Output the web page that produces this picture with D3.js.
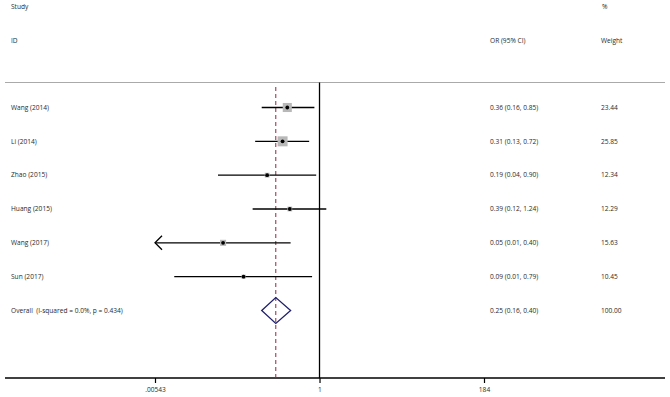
<!DOCTYPE html>
<html>
<head>
<meta charset="utf-8">
<script src="https://cdn.jsdelivr.net/npm/d3@7"></script>
<style>
  body { margin: 0; background: #fff; }
  text { font-family: "Open Sans", sans-serif; fill: #2a2a2a; }
</style>
</head>
<body>
<div id="chart"></div>
<script>
// study data
const studies = ["Wang (2014)", "Li (2014)", "Zhao (2015)", "Huang (2015)", "Wang (2017)", "Sun (2017)"];
const orValues = [0.36, 0.31, 0.19, 0.39, 0.047, 0.09];
const ciLower = [0.16, 0.13, 0.04, 0.12, 0.0054, 0.01];
const ciUpper = [0.85, 0.72, 0.90, 1.24, 0.40, 0.79];
const weights = [23.44, 25.85, 12.34, 12.29, 15.63, 10.45];

const overallLabel = "Overall  (I-squared = 0.0%, p = 0.434)";
const overall = { or: 0.25, lo: 0.16, hi: 0.40, weight: 100.00 };

const tickValues = [0.00543, 1, 184];
const tickLabels = [".00543", "1", "184"];

const width = 670, height = 397;
const fmt = d3.format(".2f");

const svg = d3.select("#chart").append("svg")
    .attr("width", width)
    .attr("height", height);

const x = d3.scaleLog()
    .domain([0.00543, 184])
    .range([155, 484]);

const rows = studies.concat([overallLabel]);
const y = d3.scalePoint()
    .domain(rows)
    .range([107.5, 310.5]);

const boxSize = d3.scaleLinear()
    .domain([0, d3.max(weights)])
    .range([0, 10]);

const data = studies.map((s, i) => ({
    name: s, or: orValues[i], lo: ciLower[i], hi: ciUpper[i], weight: weights[i]
}));

// headers
const headers = [
    { t: "Study", x: 11, y: 7 },
    { t: "ID", x: 11, y: 41 },
    { t: "OR (95% CI)", x: 490, y: 41 },
    { t: "%", x: 602, y: 7 },
    { t: "Weight", x: 601, y: 41 }
];
svg.selectAll(".hdr")
    .data(headers)
    .enter()
    .append("text")
    .attr("x", d => d.x)
    .attr("y", d => d.y)
    .attr("dy", "0.35em")
    .style("font-size", "6.6px")
    .text(d => d.t);

svg.append("line")
    .attr("x1", 5).attr("x2", 665)
    .attr("y1", 82.5).attr("y2", 82.5)
    .attr("stroke", "#aaa")
    .attr("stroke-width", 1);

// axis
const axisY = 378;
const axis = d3.axisBottom(x)
    .tickValues(tickValues)
    .tickFormat((d, i) => tickLabels[i])
    .tickSize(5)
    .tickSizeOuter(0);

const gAxis = svg.append("g")
    .attr("transform", `translate(0,${axisY})`)
    .call(axis);
gAxis.select(".domain").remove();
gAxis.selectAll(".tick line").attr("stroke", "#000").attr("stroke-width", 1.2);
gAxis.selectAll(".tick text")
    .attr("y", 9)
    .style("font-size", "6.6px")
    .style("font-family", "Open Sans, sans-serif")
    .attr("fill", "#2a2a2a");

svg.append("line")
    .attr("x1", 5).attr("x2", 665)
    .attr("y1", axisY).attr("y2", axisY)
    .attr("stroke", "#000")
    .attr("stroke-width", 1.3);

// null line
svg.append("line")
    .attr("x1", x(1)).attr("x2", x(1))
    .attr("y1", 82.5).attr("y2", axisY)
    .attr("stroke", "#000")
    .attr("stroke-width", 1.3);

// overall effect dashed line
svg.append("line")
    .attr("x1", x(overall.or)).attr("x2", x(overall.or))
    .attr("y1", 87).attr("y2", axisY)
    .attr("stroke", "#8b2a3a")
    .attr("stroke-width", 1)
    .attr("stroke-dasharray", "4,3");

// CI lines (clipped at axis min with arrow)
const xMin = x.domain()[0];
svg.selectAll(".ci")
    .data(data)
    .enter()
    .append("line")
    .attr("class", "ci")
    .attr("x1", d => x(Math.max(d.lo, xMin)))
    .attr("x2", d => x(d.hi))
    .attr("y1", d => y(d.name))
    .attr("y2", d => y(d.name))
    .attr("stroke", "#000")
    .attr("stroke-width", 1.4);

svg.selectAll(".arrow")
    .data(data.filter(d => d.lo < xMin))
    .enter()
    .append("path")
    .attr("class", "arrow")
    .attr("d", d => {
        const ax = x(xMin), ay = y(d.name);
        return `M${ax + 7},${ay - 7} L${ax},${ay} L${ax + 7},${ay + 7}`;
    })
    .attr("fill", "none")
    .attr("stroke", "#000")
    .attr("stroke-width", 1.3);

// weight boxes
svg.selectAll(".box")
    .data(data)
    .enter()
    .append("rect")
    .attr("class", "box")
    .attr("x", d => x(d.or) - boxSize(d.weight) / 2)
    .attr("y", d => y(d.name) - boxSize(d.weight) / 2)
    .attr("width", d => boxSize(d.weight))
    .attr("height", d => boxSize(d.weight))
    .attr("fill", "#b8b8b8");

svg.selectAll(".pt")
    .data(data)
    .enter()
    .append("circle")
    .attr("class", "pt")
    .attr("cx", d => x(d.or))
    .attr("cy", d => y(d.name))
    .attr("r", 1.9)
    .attr("fill", "#000");

// overall diamond
const oy = y(overallLabel);
svg.append("path")
    .attr("d", `M${x(overall.lo)},${oy} L${x(overall.or)},${oy - 13} L${x(overall.hi)},${oy} L${x(overall.or)},${oy + 13} Z`)
    .attr("fill", "none")
    .attr("stroke", "#1f1f6b")
    .attr("stroke-width", 1.3);

// row labels
const rowData = data.map(d => ({
    name: d.name,
    ci: `${fmt(d.or)} (${fmt(d.lo)}, ${fmt(d.hi)})`,
    w: fmt(d.weight)
})).concat([{
    name: overallLabel,
    ci: `${fmt(overall.or)} (${fmt(overall.lo)}, ${fmt(overall.hi)})`,
    w: fmt(overall.weight)
}]);

const rowG = svg.selectAll(".row")
    .data(rowData)
    .enter()
    .append("g")
    .attr("transform", d => `translate(0,${y(d.name)})`);

rowG.append("text")
    .attr("x", 11).attr("dy", "0.35em")
    .style("font-size", "6.6px")
    .style("white-space", "pre")
    .text(d => d.name);
rowG.append("text")
    .attr("x", 490).attr("dy", "0.35em")
    .style("font-size", "6.6px")
    .text(d => d.ci);
rowG.append("text")
    .attr("x", 601).attr("dy", "0.35em")
    .style("font-size", "6.6px")
    .text(d => d.w);
</script>
</body>
</html>
